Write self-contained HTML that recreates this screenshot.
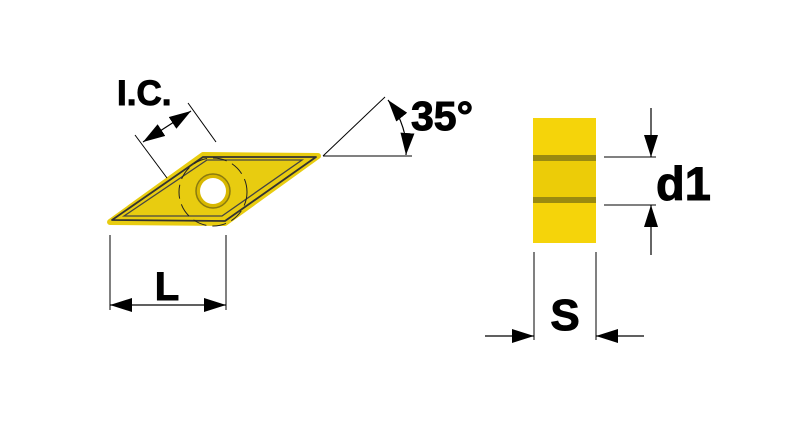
<!DOCTYPE html>
<html><head><style>html,body{margin:0;padding:0;background:#fff}</style></head><body>
<svg width="800" height="423" viewBox="0 0 800 423" xmlns="http://www.w3.org/2000/svg" font-family="Liberation Sans, sans-serif" font-weight="bold">
<defs>
<marker id="a" viewBox="0 0 22 14" refX="22" refY="7" markerWidth="22" markerHeight="14" markerUnits="userSpaceOnUse" orient="auto-start-reverse"><path d="M0,0L22,7L0,14z" fill="#000"/></marker>
</defs>
<!-- diamond -->
<path d="M110,222 L203,155 L318,156 L225,223 Z" fill="#e8cc10" stroke="#e8cc10" stroke-width="6" stroke-linejoin="round"/>
<path d="M112,220 L203,157 L316,157 L225,221 Z" fill="none" stroke="#333" stroke-width="1.8" stroke-linejoin="round"/>
<path d="M124,216 L207,160 L302,160 L222,216 Z" fill="none" stroke="#444" stroke-width="1.3"/>
<circle cx="213" cy="192" r="34" fill="none" stroke="#222" stroke-width="1" stroke-dasharray="14,6"/>
<circle cx="213" cy="191" r="17" fill="#d8b800" stroke="#8a7a10" stroke-width="1.5"/>
<circle cx="213" cy="191" r="13" fill="#fff"/>
<!-- IC -->
<line x1="135" y1="135" x2="167" y2="178" stroke="#000" stroke-width="1"/>
<line x1="188" y1="103" x2="216" y2="142" stroke="#000" stroke-width="1"/>
<line x1="143" y1="142" x2="191" y2="111" stroke="#000" stroke-width="1.2" marker-start="url(#a)" marker-end="url(#a)"/>
<text x="117" y="105" font-size="35" stroke="#000" stroke-width="1">I.C.</text>
<!-- L -->
<line x1="110" y1="235" x2="110" y2="310" stroke="#000" stroke-width="1"/>
<line x1="226" y1="235" x2="226" y2="310" stroke="#000" stroke-width="1"/>
<line x1="110" y1="305" x2="226" y2="305" stroke="#000" stroke-width="1.2" marker-start="url(#a)" marker-end="url(#a)"/>
<text x="167" y="300" font-size="40" text-anchor="middle" stroke="#000" stroke-width="1">L</text>
<!-- 35 -->
<line x1="323" y1="156" x2="385" y2="97" stroke="#000" stroke-width="1"/>
<line x1="323" y1="156" x2="412" y2="156" stroke="#000" stroke-width="1"/>
<path d="M388,100 Q408,125 406,155" fill="none" stroke="#000" stroke-width="1.2" marker-start="url(#a)" marker-end="url(#a)"/>
<text x="411" y="130" font-size="41" stroke="#000" stroke-width="1">35°</text>
<!-- side view -->
<rect x="533" y="118" width="63" height="125" fill="#f5d40a"/>
<rect x="533" y="155" width="63" height="6" fill="#9a8a10"/>
<rect x="533" y="161" width="63" height="36" fill="#eccc08"/>
<rect x="533" y="197" width="63" height="6" fill="#9a8a10"/>
<line x1="604" y1="157" x2="656" y2="157" stroke="#000" stroke-width="1"/>
<line x1="604" y1="205" x2="656" y2="205" stroke="#000" stroke-width="1"/>
<line x1="651" y1="108" x2="651" y2="157" stroke="#000" stroke-width="1.2" marker-end="url(#a)"/>
<line x1="651" y1="255" x2="651" y2="205" stroke="#000" stroke-width="1.2" marker-end="url(#a)"/>
<text x="656" y="200" font-size="47" stroke="#000" stroke-width="1">d1</text>
<line x1="534" y1="252" x2="534" y2="340" stroke="#000" stroke-width="1"/>
<line x1="596" y1="252" x2="596" y2="340" stroke="#000" stroke-width="1"/>
<line x1="485" y1="336" x2="534" y2="336" stroke="#000" stroke-width="1.2" marker-end="url(#a)"/>
<line x1="644" y1="336" x2="596" y2="336" stroke="#000" stroke-width="1.2" marker-end="url(#a)"/>
<text x="565" y="330" font-size="44" text-anchor="middle" stroke="#000" stroke-width="1">S</text>
</svg>
</body></html>
